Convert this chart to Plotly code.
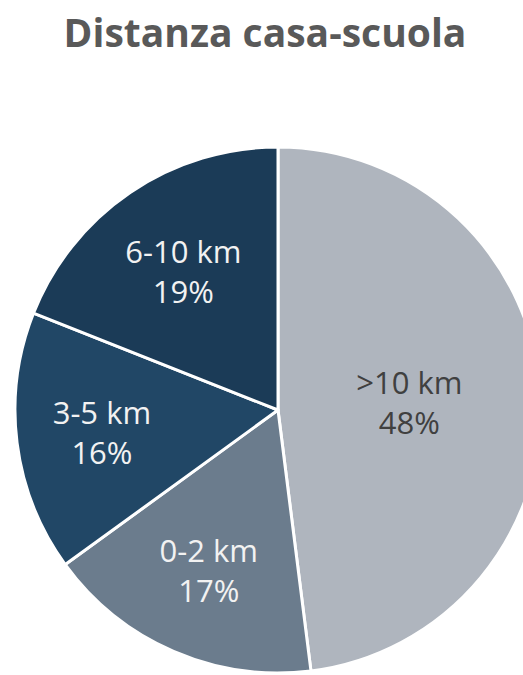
import plotly.graph_objects as go

categories = [">10 km", "0-2 km", "3-5 km", "6-10 km"]
values = [48, 17, 16, 19]
colors = ["#AFB5BE", "#6B7C8D", "#214766", "#1B3B57"]
text_colors = ["#404040", "#F2F2F2", "#F2F2F2", "#F2F2F2"]

W, H = 560, 675
cx, cy, r = 278, 410, 263

fig = go.Figure(go.Pie(
    labels=categories,
    values=values,
    sort=False,
    direction="clockwise",
    rotation=0,
    marker=dict(colors=colors, line=dict(color="white", width=3)),
    texttemplate="%{label}<br>%{percent:.0%}",
    textposition="inside",
    insidetextorientation="horizontal",
    textfont=dict(family="Open Sans", size=31, color=text_colors),
    domain=dict(x=[(cx - r) / W, (cx + r) / W], y=[(H - cy - r) / H, (H - cy + r) / H]),
    showlegend=False,
    hoverinfo="label+percent",
))

fig.update_layout(
    width=W, height=H,
    margin=dict(l=0, r=0, t=0, b=0),
    paper_bgcolor="white",
    title=dict(text="<b>Distanza casa-scuola</b>", x=265 / W, xref="paper", xanchor="center",
               y=1 - 33 / H, yref="container", yanchor="middle",
               font=dict(family="Open Sans", size=39, color="#595959")),
)

fig.write_html("out.html", config={"displayModeBar": False},
               post_script="document.body.style.margin='0';document.body.style.overflow='hidden';")
